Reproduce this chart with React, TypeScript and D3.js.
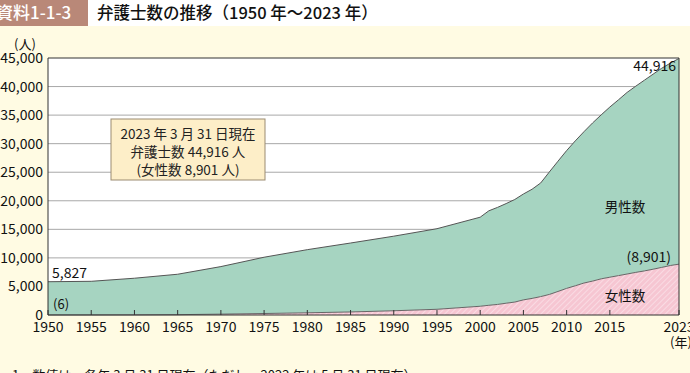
import React from "react";
import * as d3 from "d3";

// 年（1950〜2000 は5年毎、以降は毎年）
const years = [
  1950, 1955, 1960, 1965, 1970, 1975, 1980, 1985, 1990, 1995, 2000, 2001, 2002,
  2003, 2004, 2005, 2006, 2007, 2008, 2009, 2010, 2011, 2012, 2013, 2014, 2015,
  2016, 2017, 2018, 2019, 2020, 2021, 2022, 2023,
];
// 弁護士数（総数）
const totals = [
  5827, 5899, 6439, 7136, 8478, 10115, 11441, 12604, 13800, 15108, 17126, 18243,
  18838, 19508, 20224, 21185, 22021, 23119, 25041, 26930, 28789, 30485, 32088,
  33624, 35045, 36415, 37680, 38980, 40066, 41118, 42164, 43206, 44101, 44916,
];
// 女性弁護士数
const women = [
  6, 13, 25, 58, 151, 262, 386, 531, 743, 1000, 1530, 1701, 1849, 2063, 2264,
  2648, 2908, 3221, 3599, 4121, 4660, 5115, 5595, 5936, 6336, 6618, 6896, 7179,
  7462, 7717, 8017, 8335, 8667, 8901,
];
const xTicks = [1950, 1955, 1960, 1965, 1970, 1975, 1980, 1985, 1990, 1995, 2000, 2005, 2010, 2015, 2023];
const yTicks = [0, 5000, 10000, 15000, 20000, 25000, 30000, 35000, 40000, 45000];
const boxLines = ["2023 年 3 月 31 日現在", "弁護士数 44,916 人", "(女性数 8,901 人)"];

const font = "'Noto Sans CJK JP', 'Noto Sans', sans-serif";

export default function App() {
  const width = 690;
  const height = 373;
  const x = d3.scaleLinear().domain([1950, 2023]).range([48, 679]);
  const y = d3.scaleLinear().domain([0, 45000]).range([315, 58]);

  const rows = years.map((yr, i) => ({ yr, total: totals[i], w: women[i] }));

  const maleArea = d3
    .area<any>()
    .x((d) => x(d.yr))
    .y0((d) => y(d.w))
    .y1((d) => y(d.total));
  const femaleArea = d3
    .area<any>()
    .x((d) => x(d.yr))
    .y0(y(0))
    .y1((d) => y(d.w));
  const totalLine = d3.line<any>().x((d) => x(d.yr)).y((d) => y(d.total));
  const womenLine = d3.line<any>().x((d) => x(d.yr)).y((d) => y(d.w));

  const fmt = d3.format(",");
  const last = rows[rows.length - 1];

  return (
    <svg
      width={width}
      height={height}
      style={{ position: "absolute", left: 0, top: 0, fontFamily: font }}
    >
      <defs>
        <pattern id="hatch" width="4" height="4" patternUnits="userSpaceOnUse" patternTransform="rotate(45)">
          <rect width="4" height="4" fill="#f6c6d2" />
          <line x1="0" y1="0" x2="0" y2="4" stroke="#fbe3e9" strokeWidth="1.5" />
        </pattern>
      </defs>

      {/* header */}
      <rect x={0} y={0} width={width} height={height} fill="#fffbe3" />
      <rect x={0} y={0} width={width} height={26} fill="#ffffff" />
      <rect x={0} y={0} width={88} height={26} fill="#b98878" />
      <text x={-4} y={19} fill="#fff" fontSize={17} fontWeight={500}>資料1-1-3</text>
      <text x={97} y={19} fill="#111" fontSize={16.5} fontWeight={500}>
        弁護士数の推移（1950 年～2023 年）
      </text>

      {/* plot background */}
      <rect x={x(1950)} y={y(45000)} width={x(2023) - x(1950)} height={y(0) - y(45000)} fill="#fff" />

      {/* gridlines */}
      {yTicks.slice(1).map((t) => (
        <line key={t} x1={x(1950)} x2={x(2023)} y1={y(t)} y2={y(t)} stroke={t === 45000 ? "#333" : "#a8a8a8"} strokeWidth={1} />
      ))}

      {/* annotation box */}
      <rect x={111} y={119} width={154} height={61} fill="#fdeec8" stroke="#9b8c72" strokeWidth={1} />
      {boxLines.map((s, i) => (
        <text key={i} x={188} y={139 + i * 18} textAnchor="middle" fontSize={13.5} fill="#222">
          {s}
        </text>
      ))}

      {/* areas */}
      <path d={maleArea(rows) || ""} fill="#a6d4c1" />
      <path d={femaleArea(rows) || ""} fill="url(#hatch)" />
      <path d={totalLine(rows) || ""} fill="none" stroke="#555" strokeWidth={1} />
      <path d={womenLine(rows) || ""} fill="none" stroke="#666" strokeWidth={1} />

      {/* frame */}
      <line x1={x(1950)} x2={x(1950)} y1={y(45000)} y2={y(0)} stroke="#333" />
      <line x1={x(2023)} x2={x(2023)} y1={y(45000)} y2={y(0)} stroke="#333" />
      <line x1={x(1950)} x2={x(2023)} y1={y(0)} y2={y(0)} stroke="#333" />

      {/* x ticks */}
      {xTicks.map((t) => (
        <g key={t}>
          <line x1={x(t)} x2={x(t)} y1={y(0)} y2={y(0) - 5} stroke="#333" />
          <text x={x(t)} y={332} textAnchor="middle" fontSize={14} fill="#111">
            {t}
          </text>
        </g>
      ))}
      <text x={670} y={347} fontSize={13} fill="#111">(年)</text>

      {/* y ticks */}
      {yTicks.map((t) => (
        <text key={t} x={43} y={y(t) + 5} textAnchor="end" fontSize={14} fill="#111">
          {fmt(t)}
        </text>
      ))}
      <text x={14} y={49} fontSize={13} fill="#111">(人)</text>

      {/* value labels */}
      <text x={52} y={278} fontSize={14} fill="#111">{fmt(rows[0].total)}</text>
      <text x={53} y={309} fontSize={13} fill="#111">({fmt(rows[0].w)})</text>
      <text x={676} y={71} textAnchor="end" fontSize={14} fill="#111">{fmt(last.total)}</text>
      <text x={671} y={262} textAnchor="end" fontSize={14} fill="#111">({fmt(last.w)})</text>
      <text x={625} y={212} textAnchor="middle" fontSize={13.5} fill="#111">男性数</text>
      <text x={625} y={301} textAnchor="middle" fontSize={13.5} fill="#111">女性数</text>

      {/* footnote */}
      <text x={12} y={380} fontSize={13} fill="#111">
        1　数値は，各年 3 月 31 日現在（ただし，2022 年は 5 月 31 日現在）
      </text>
    </svg>
  );
}
